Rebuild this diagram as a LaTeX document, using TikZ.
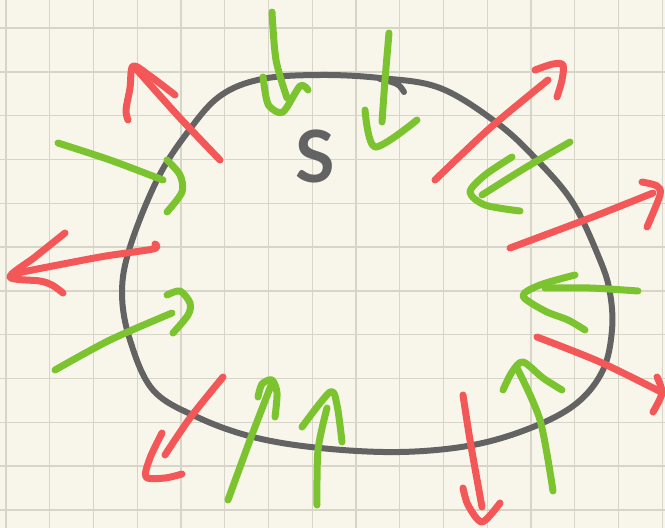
\documentclass[tikz,border=0pt]{standalone}
\usepackage{fontspec}
\newfontfamily\labelfont{Lato}
\definecolor{paper}{RGB}{248,246,234}
\definecolor{gridc}{RGB}{214,213,200}
\definecolor{outc}{RGB}{99,99,99}
\definecolor{redc}{RGB}{244,87,87}
\definecolor{greenc}{RGB}{124,196,47}
\tikzset{
  redarrow/.style={draw=redc, line width=7pt, line cap=round, line join=round},
  greenarrow/.style={draw=greenc, line width=7pt, line cap=round, line join=round},
  outline/.style={draw=outc, line width=6pt, line cap=round, line join=round},
}
\begin{document}
\begin{tikzpicture}[x=1pt,y=-1pt]
\fill[paper] (0,0) rectangle (665,528);
\useasboundingbox (0,0) rectangle (665,528);
% grid
\foreach \k in {0,...,15} {\draw[gridc, line width=1.4pt] ({6+43.75*\k},0) -- ({6+43.75*\k},528);}
\foreach \k in {0,...,11} {\draw[gridc, line width=1.4pt] (0,{28+43.8*\k}) -- (665,{28+43.8*\k});}
% closed curve S
\draw[outline] plot[smooth cycle, tension=0.6] coordinates {
 (320,75) (380,78) (440,88) (497,123) (537,160) (573,203) (600,260) (610,293)
 (612,330) (603,370) (577,403) (533,427) (473,445) (400,452) (320,448) (253,437)
 (197,417) (153,390) (130,340) (122,293) (130,247) (157,180) (187,133) (220,96) (262,79)};
\draw[outline] plot[smooth, tension=0.6] coordinates {(380,79) (397,84) (404,92)};
\node[text=outc, font=\labelfont\bfseries\fontsize{72}{72}\selectfont, inner sep=0pt, anchor=base] (S) at (315,182) {S};
% red arrows (outward)
\draw[redarrow] plot[smooth] coordinates {(220,160) (180,118) (137,70)};
\draw[redarrow] plot[smooth] coordinates {(128,120) (126,110) (130,88) (133,66) (150,76) (175,95)};
\draw[redarrow] plot[smooth] coordinates {(435,180) (490,128) (548,80)};
\draw[redarrow] plot[smooth] coordinates {(535,70) (553,64) (563,65) (562,80) (557,97)};
\draw[redarrow] plot[smooth] coordinates {(510,248) (590,218) (653,193)};
\draw[redarrow] plot[smooth] coordinates {(642,182) (657,186) (660,195) (647,227)};
\draw[redarrow] plot[smooth] coordinates {(155,244) (153,249) (100,257) (12,274)};
\draw[redarrow] plot[smooth] coordinates {(65,233) (35,257) (10,277) (40,281) (52,285) (63,293)};
\draw[redarrow] plot[smooth] coordinates {(223,377) (190,418) (165,455)};
\draw[redarrow] plot[smooth] coordinates {(162,433) (150,458) (146,477) (165,478) (182,474)};
\draw[redarrow] plot[smooth] coordinates {(463,395) (470,440) (482,507)};
\draw[redarrow] plot[smooth] coordinates {(463,488) (468,505) (482,522) (500,503)};
\draw[redarrow] plot[smooth] coordinates {(537,337) (600,362) (663,393)};
\draw[redarrow] plot[smooth] coordinates {(657,377) (662,393) (653,412)};
% green arrows (inward)
\draw[greenarrow] plot[smooth] coordinates {(272,12) (276,60) (287,98)};
\draw[greenarrow] plot[smooth] coordinates {(263,77) (266,97) (270,107) (283,112) (300,86) (308,90)};
\draw[greenarrow] plot[smooth] coordinates {(389,33) (385,80) (382,122)};
\draw[greenarrow] plot[smooth] coordinates {(365,110) (375,147) (417,120)};
\draw[greenarrow] plot[smooth] coordinates {(58,143) (110,160) (163,180)};
\draw[greenarrow] plot[smooth] coordinates {(167,160) (180,175) (182,192) (167,212)};
\draw[greenarrow] plot[smooth] coordinates {(55,370) (110,340) (172,313)};
\draw[greenarrow] plot[smooth] coordinates {(167,295) (180,291) (190,303) (188,315) (173,333)};
\draw[greenarrow] plot[smooth] coordinates {(570,142) (525,168) (482,195)};
\draw[greenarrow] plot[smooth] coordinates {(512,157) (485,175) (470,192) (485,205) (520,211)};
\draw[greenarrow] plot[smooth] coordinates {(638,291) (590,288) (545,288)};
\draw[greenarrow] plot[smooth] coordinates {(575,275) (540,285) (523,296) (545,311) (568,320) (585,330)};
\draw[greenarrow] plot[smooth] coordinates {(553,491) (540,420) (517,368)};
\draw[greenarrow] plot[smooth] coordinates {(503,390) (512,372) (523,362) (543,378) (562,390)};
\draw[greenarrow] plot[smooth] coordinates {(228,500) (250,440) (272,383)};
\draw[greenarrow] plot[smooth] coordinates {(258,397) (262,384) (272,380) (277,393) (275,417)};
\draw[greenarrow] plot[smooth] coordinates {(317,505) (318,450) (327,408)};
\draw[greenarrow] plot[smooth] coordinates {(302,427) (330,392) (337,405) (342,442)};
\end{tikzpicture}
\end{document}
